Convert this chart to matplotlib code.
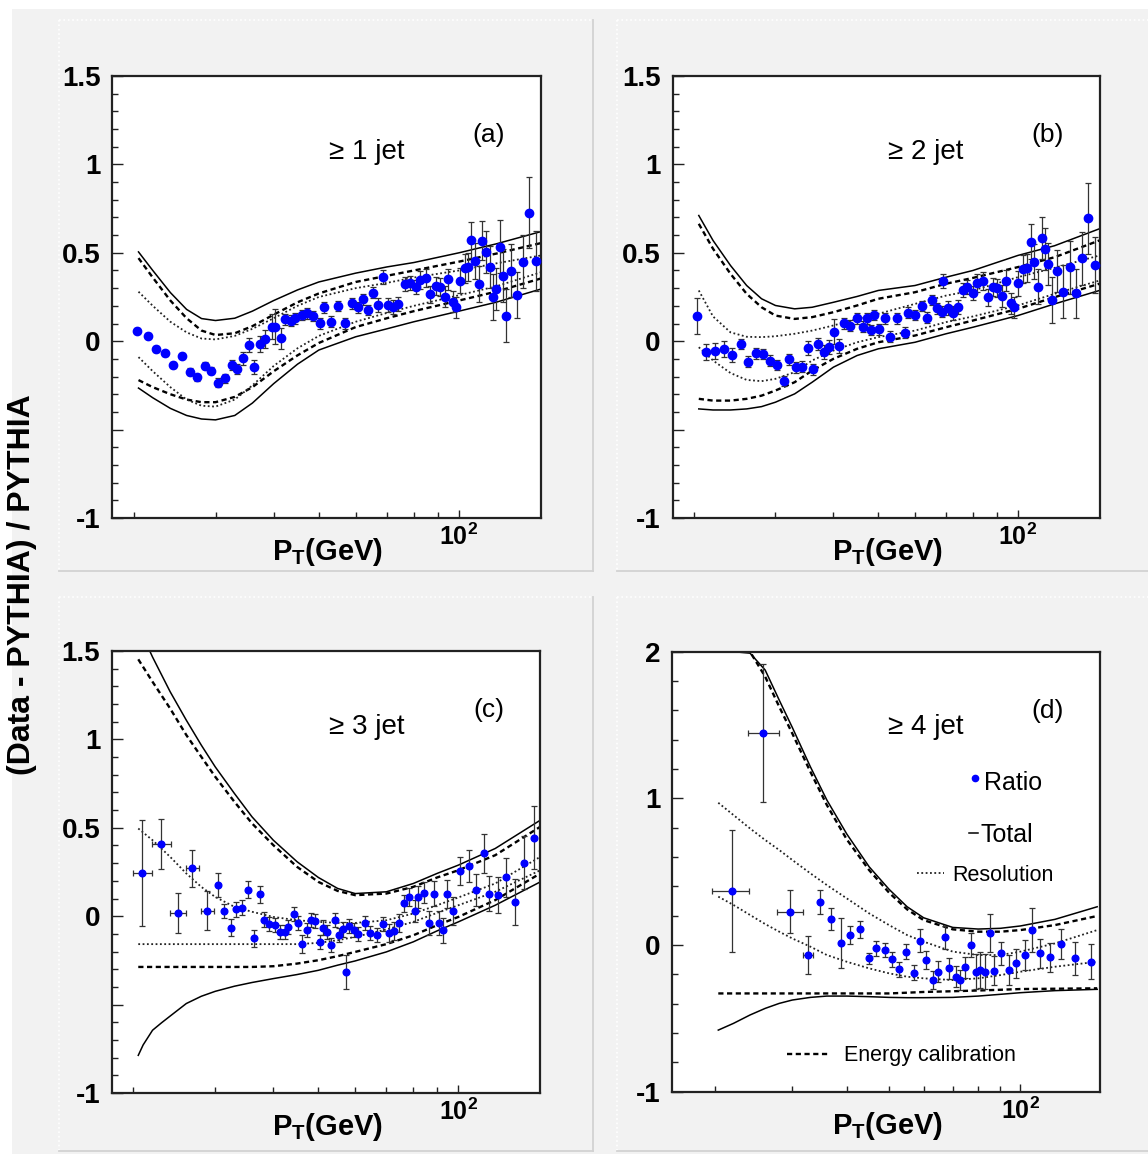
import matplotlib
matplotlib.use('Agg')
import matplotlib.pyplot as plt
from matplotlib.ticker import MultipleLocator, NullFormatter
from matplotlib.lines import Line2D
from matplotlib.patches import Rectangle

plt.rcParams['font.family'] = ['Liberation Sans', 'DejaVu Sans']
plt.rcParams['mathtext.fontset'] = 'custom'
plt.rcParams['mathtext.rm'] = 'Liberation Sans'
plt.rcParams['mathtext.bf'] = 'Liberation Sans:bold'
plt.rcParams['mathtext.it'] = 'Liberation Sans:italic'

BLUE = '#0000ff'

# ---------------- panel (a): >= 1 jet ----------------
cx_a = [20.5, 22, 24, 26, 28, 30, 33, 36, 40, 45, 50, 60, 70, 80, 100, 120, 150]
tot_up_a = [0.505, 0.40, 0.275, 0.18, 0.128, 0.117, 0.13, 0.17, 0.23, 0.29, 0.335, 0.385, 0.42, 0.445, 0.50, 0.55, 0.62]
cal_up_a = [0.47, 0.36, 0.23, 0.13, 0.06, 0.035, 0.045, 0.085, 0.15, 0.22, 0.27, 0.335, 0.37, 0.40, 0.45, 0.495, 0.555]
res_up_a = [0.28, 0.20, 0.11, 0.05, 0.015, 0.01, 0.03, 0.07, 0.13, 0.20, 0.25, 0.30, 0.33, 0.36, 0.40, 0.44, 0.485]
res_lo_a = [-0.09, -0.17, -0.26, -0.33, -0.365, -0.37, -0.33, -0.25, -0.14, -0.04, 0.03, 0.11, 0.16, 0.20, 0.26, 0.31, 0.39]
cal_lo_a = [-0.22, -0.26, -0.30, -0.33, -0.345, -0.345, -0.315, -0.26, -0.17, -0.08, -0.01, 0.08, 0.13, 0.17, 0.23, 0.28, 0.355]
tot_lo_a = [-0.265, -0.32, -0.38, -0.42, -0.44, -0.445, -0.42, -0.35, -0.24, -0.13, -0.05, 0.025, 0.07, 0.11, 0.17, 0.22, 0.295]

pt_a = [20.3, 21.5, 22.4, 23.4, 24.3, 25.4, 26.4, 27.4, 28.5, 29.4, 30.4, 31.4, 32.5, 33.4,
        34.4, 35.4, 36.3, 37.3, 38.4, 39.6, 40.2, 41.4, 42.3, 43.5, 44.5, 45.9, 47.1, 48.5,
        50.2, 51.3, 53.2, 55.0, 56.9, 58.8, 60.7, 62.2, 63.8, 65.4, 67.0, 68.7, 70.4, 72.2,
        74.0, 76.5, 78.4, 80.8, 82.6, 84.8, 86.5, 89.1, 90.9, 93.2, 94.7, 97.1, 98.4, 100.3,
        102.9, 104.5, 106.3, 108.4, 110.2, 112.2, 114.1, 116.4, 118.3, 120.3, 122.3, 124.3,
        126.4, 129.1, 133.5, 137.3, 141.2, 146.1]
val_a = [0.059, 0.031, -0.044, -0.068, -0.135, -0.082, -0.172, -0.204, -0.139, -0.167, -0.235,
         -0.21, -0.135, -0.157, -0.097, -0.021, -0.144, -0.016, 0.012, 0.082, 0.082, 0.016, 0.124,
         0.116, 0.13, 0.148, 0.158, 0.143, 0.101, 0.192, 0.11, 0.199, 0.101, 0.214, 0.192, 0.237,
         0.176, 0.274, 0.205, 0.365, 0.205, 0.195, 0.21, 0.322, 0.327, 0.305, 0.346, 0.356, 0.265,
         0.312, 0.308, 0.252, 0.35, 0.223, 0.192, 0.342, 0.412, 0.418, 0.572, 0.454, 0.324, 0.568,
         0.506, 0.421, 0.252, 0.294, 0.535, 0.369, 0.143, 0.399, 0.261, 0.45, 0.727, 0.455]
err_a = [0.015, 0.015, 0.015, 0.015, 0.015, 0.015, 0.02, 0.02, 0.02, 0.02, 0.025, 0.025, 0.03,
         0.03, 0.035, 0.04, 0.04, 0.045, 0.05, 0.07, 0.1, 0.06, 0.03, 0.03, 0.03, 0.03, 0.03, 0.03,
         0.03, 0.03, 0.03, 0.03, 0.03, 0.03, 0.03, 0.03, 0.03, 0.03, 0.04, 0.04, 0.04, 0.04, 0.04,
         0.04, 0.04, 0.04, 0.05, 0.05, 0.05, 0.05, 0.05, 0.06, 0.06, 0.06, 0.06, 0.07, 0.08, 0.08,
         0.1, 0.1, 0.1, 0.11, 0.12, 0.12, 0.13, 0.12, 0.15, 0.15, 0.15, 0.15, 0.13, 0.15, 0.2, 0.17]

# ---------------- panel (b): >= 2 jet ----------------
cx_b = [20.5, 22, 24, 26, 28, 30, 33, 36, 40, 45, 50, 60, 70, 80, 100, 120, 150]
tot_up_b = [0.711, 0.57, 0.428, 0.315, 0.24, 0.202, 0.183, 0.192, 0.22, 0.253, 0.287, 0.315, 0.362, 0.40, 0.485, 0.54, 0.636]
cal_up_b = [0.664, 0.523, 0.381, 0.268, 0.192, 0.145, 0.126, 0.136, 0.164, 0.202, 0.24, 0.277, 0.325, 0.358, 0.419, 0.475, 0.57]
res_up_b = [0.287, 0.14, 0.05, 0.025, 0.023, 0.028, 0.042, 0.06, 0.089, 0.126, 0.155, 0.211, 0.258, 0.287, 0.362, 0.415, 0.485]
res_lo_b = [-0.034, -0.109, -0.18, -0.219, -0.226, -0.213, -0.175, -0.109, -0.053, -0.006, 0.023, 0.06, 0.108, 0.14, 0.202, 0.268, 0.343]
cal_lo_b = [-0.326, -0.336, -0.336, -0.326, -0.308, -0.279, -0.232, -0.166, -0.1, -0.043, -0.006, 0.032, 0.079, 0.117, 0.183, 0.249, 0.325]
tot_lo_b = [-0.383, -0.389, -0.389, -0.383, -0.37, -0.345, -0.298, -0.232, -0.147, -0.081, -0.043, -0.006, 0.042, 0.079, 0.145, 0.211, 0.287]

pt_b = [20.3, 21.3, 22.2, 23.2, 24.2, 25.3, 26.2, 27.2, 28.2, 29.2, 30.3, 31.3, 32.1, 33.2,
        34.2, 35.2, 36.2, 37.1, 38.1, 39.1, 40.1, 41.2, 42.2, 43.5, 44.9, 46.3, 47.2, 48.2,
        49.0, 50.2, 51.7, 53.0, 54.8, 57.1, 58.0, 60.0, 62.0, 63.6, 65.2, 66.9, 68.5, 69.1,
        70.8, 72.4, 74.4, 76.0, 77.8, 80.2, 81.8, 84.0, 86.4, 88.6, 90.1, 92.3, 94.3, 96.5,
        98.1, 100.3, 102.5, 104.8, 106.6, 108.4, 110.4, 112.6, 114.5, 116.4, 118.3, 121.3,
        125.0, 129.6, 133.5, 137.4, 141.5, 146.7]
val_b = [0.143, -0.063, -0.055, -0.044, -0.078, -0.016, -0.116, -0.068, -0.072, -0.11, -0.135,
         -0.225, -0.102, -0.148, -0.144, -0.04, -0.159, -0.016, -0.06, -0.035, 0.054, -0.027, 0.101,
         0.088, 0.13, 0.082, 0.13, 0.063, 0.148, 0.067, 0.13, 0.026, 0.13, 0.048, 0.161, 0.148,
         0.199, 0.133, 0.233, 0.186, 0.167, 0.342, 0.186, 0.161, 0.192, 0.29, 0.305, 0.271, 0.331,
         0.342, 0.248, 0.308, 0.299, 0.256, 0.342, 0.214, 0.192, 0.327, 0.407, 0.416, 0.563, 0.45,
         0.308, 0.585, 0.52, 0.437, 0.233, 0.397, 0.28, 0.418, 0.271, 0.469, 0.695, 0.431]
err_b = [0.1, 0.045, 0.045, 0.045, 0.04, 0.03, 0.03, 0.03, 0.03, 0.03, 0.03, 0.03, 0.03, 0.03,
         0.03, 0.04, 0.03, 0.035, 0.04, 0.04, 0.07, 0.04, 0.03, 0.03, 0.03, 0.03, 0.03, 0.03, 0.03,
         0.03, 0.03, 0.03, 0.03, 0.03, 0.03, 0.03, 0.03, 0.03, 0.03, 0.03, 0.03, 0.04, 0.04, 0.04,
         0.04, 0.04, 0.04, 0.04, 0.05, 0.05, 0.05, 0.05, 0.05, 0.06, 0.06, 0.06, 0.06, 0.07, 0.08,
         0.08, 0.1, 0.1, 0.1, 0.12, 0.12, 0.12, 0.13, 0.12, 0.15, 0.15, 0.14, 0.15, 0.2, 0.16]

# ---------------- panel (c): >= 3 jet ----------------
cx_c = [20.5, 22, 24, 26, 28, 30, 33, 36, 40, 45, 50, 55, 60, 70, 80, 90, 100, 120, 150]
cx_c_top = [21.7, 22, 24, 26, 28, 30, 33, 36, 40, 45, 50, 55, 60, 70, 80, 90, 100, 120, 150]
cx_c_low = [20.5, 21, 22, 23, 24, 26, 28, 30, 33, 36, 40, 45, 50, 55, 60, 70, 80, 90, 100, 120, 150]
tot_up_c = [1.5, 1.466, 1.27, 1.109, 0.968, 0.845, 0.694, 0.562, 0.43, 0.308, 0.219, 0.157, 0.128, 0.138, 0.185, 0.242, 0.289, 0.383, 0.543]
cal_up_c = [1.453, 1.326, 1.175, 1.025, 0.902, 0.789, 0.647, 0.525, 0.402, 0.279, 0.194, 0.143, 0.119, 0.128, 0.166, 0.219, 0.26, 0.345, 0.506]
res_up_c = [0.496, 0.43, 0.336, 0.242, 0.166, 0.109, 0.053, 0.025, -0.004, -0.023, -0.032, -0.038, -0.038, -0.023, 0.015, 0.062, 0.106, 0.185, 0.336]
res_lo_c = [-0.158, -0.158, -0.158, -0.158, -0.158, -0.158, -0.158, -0.158, -0.158, -0.158, -0.151, -0.136, -0.117, -0.075, -0.032, 0.019, 0.062, 0.138, 0.26]
cal_lo_c = [-0.287, -0.287, -0.287, -0.287, -0.287, -0.287, -0.287, -0.287, -0.283, -0.268, -0.249, -0.226, -0.202, -0.158, -0.108, -0.051, -0.004, 0.091, 0.242]
tot_lo_c = [-0.787, -0.728, -0.645, -0.603, -0.565, -0.494, -0.453, -0.425, -0.396, -0.375, -0.353, -0.33, -0.306, -0.277, -0.253, -0.202, -0.145, -0.083, -0.032, 0.062, 0.194]

pt_c = [20.9, 22.9, 25.0, 26.8, 28.8, 30.4, 31.4, 32.4, 33.3, 34.3, 35.3, 36.3, 37.4, 38.2,
        39.1, 40.3, 41.3, 42.3, 43.1, 44.4, 45.2, 46.2, 47.3, 48.3, 49.2, 50.3, 51.1, 52.3,
        53.1, 54.4, 55.5, 56.6, 57.4, 58.3, 59.6, 60.8, 62.9, 64.7, 66.8, 68.8, 70.8, 72.7,
        74.5, 76.3, 78.3, 80.5, 82.0, 84.5, 86.4, 88.6, 91.0, 92.6, 94.6, 97.3, 101.0, 105.6,
        109.1, 113.4, 116.6, 121.5, 126.6, 132.3, 138.6, 145.2]
val_c = [0.242, 0.408, 0.019, 0.27, 0.03, 0.175, 0.03, -0.064, 0.038, 0.049, 0.151, -0.126,
         0.123, -0.019, -0.045, -0.051, -0.089, -0.089, -0.06, 0.011, -0.038, -0.158, -0.079,
         -0.023, -0.028, -0.145, -0.064, -0.089, -0.164, -0.023, -0.108, -0.075, -0.315, -0.057,
         -0.079, -0.102, -0.038, -0.094, -0.108, -0.045, -0.094, -0.083, -0.038, 0.072, 0.109,
         0.03, 0.109, 0.132, -0.038, 0.128, -0.038, -0.079, 0.125, 0.03, 0.257, 0.283, 0.147,
         0.355, 0.128, 0.119, 0.219, 0.081, 0.302, 0.445]
err_c = [0.3, 0.14, 0.114, 0.104, 0.11, 0.068, 0.04, 0.05, 0.04, 0.04, 0.05, 0.05, 0.05, 0.04,
         0.04, 0.04, 0.04, 0.04, 0.04, 0.04, 0.04, 0.05, 0.04, 0.04, 0.04, 0.04, 0.04, 0.04,
         0.04, 0.04, 0.04, 0.04, 0.094, 0.04, 0.04, 0.04, 0.04, 0.04, 0.04, 0.04, 0.05, 0.05,
         0.05, 0.05, 0.05, 0.06, 0.06, 0.06, 0.07, 0.07, 0.07, 0.07, 0.08, 0.08, 0.08, 0.09,
         0.09, 0.11, 0.1, 0.1, 0.11, 0.13, 0.15, 0.18]
xlo_c = [0.9, 1.0, 1.0, 0.9, 0.9] + [0.0] * 59
xhi_c = [1.0, 1.2, 1.0, 0.9, 1.0] + [0.0] * 59

# ---------------- panel (d): >= 4 jet ----------------
cx_d = [20.3, 22, 24, 26, 28, 30, 33, 36, 40, 45, 50, 55, 60, 70, 80, 90, 100, 120, 150]
tot_up_d = [2.0, 2.0, 1.99, 1.875, 1.67, 1.484, 1.216, 0.989, 0.757, 0.534, 0.38, 0.261, 0.186, 0.12, 0.109, 0.114, 0.13, 0.175, 0.261]
cal_up_d = [2.0, 2.0, 2.0, 1.83, 1.625, 1.443, 1.182, 0.955, 0.72, 0.511, 0.357, 0.243, 0.17, 0.107, 0.091, 0.091, 0.102, 0.136, 0.198]
res_up_d = [0.97, 0.886, 0.795, 0.716, 0.648, 0.58, 0.489, 0.409, 0.318, 0.216, 0.136, 0.068, 0.023, -0.045, -0.068, -0.068, -0.045, 0.011, 0.102]
res_lo_d = [0.33, 0.273, 0.205, 0.143, 0.091, 0.045, -0.011, -0.068, -0.114, -0.159, -0.193, -0.216, -0.227, -0.239, -0.227, -0.205, -0.182, -0.148, -0.114]
cal_lo_d = [-0.33, -0.33, -0.33, -0.33, -0.33, -0.33, -0.33, -0.33, -0.33, -0.33, -0.33, -0.325, -0.32, -0.315, -0.31, -0.305, -0.30, -0.298, -0.295]
tot_lo_d = [-0.58, -0.534, -0.477, -0.432, -0.398, -0.375, -0.357, -0.348, -0.348, -0.352, -0.357, -0.359, -0.359, -0.357, -0.348, -0.336, -0.325, -0.311, -0.302]

pt_d = [21.8, 25.7, 29.7, 32.6, 34.8, 36.9, 38.9, 40.7, 43.0, 44.9, 46.7, 48.9, 50.8, 52.8,
        54.8, 57.0, 58.8, 60.8, 63.1, 64.7, 67.1, 68.7, 71.2, 72.8, 74.8, 77.2, 79.1, 80.9,
        83.1, 85.3, 87.1, 90.4, 94.3, 97.7, 102.3, 106.3, 111.1, 117.1, 124.1, 133.6, 145.4]
val_d = [0.37, 1.448, 0.227, -0.068, 0.295, 0.175, 0.011, 0.068, 0.107, -0.091, -0.023, -0.034,
         -0.098, -0.166, -0.045, -0.189, 0.03, -0.102, -0.239, -0.182, 0.052, -0.159, -0.216,
         -0.239, -0.152, 0.0, -0.182, -0.17, -0.182, 0.08, -0.175, -0.057, -0.17, -0.125, -0.068,
         0.102, -0.057, -0.084, 0.007, -0.091, -0.114]
err_d = [0.415, 0.47, 0.148, 0.13, 0.08, 0.075, 0.17, 0.06, 0.06, 0.04, 0.05, 0.05, 0.05, 0.05,
         0.05, 0.05, 0.08, 0.06, 0.06, 0.07, 0.08, 0.07, 0.07, 0.07, 0.07, 0.08, 0.12, 0.12, 0.12,
         0.13, 0.1, 0.08, 0.1, 0.1, 0.1, 0.15, 0.1, 0.1, 0.1, 0.11, 0.12]
xlo_d = [2.2, 1.9, 2.0, 0.8] + [0.0] * 37
xhi_d = [2.1, 2.3, 2.1, 0.8] + [0.0] * 37

jet_labels = ['\u2265 1 jet', '\u2265 2 jet', '\u2265 3 jet', '\u2265 4 jet']
panel_tags = ['(a)', '(b)', '(c)', '(d)']


def draw_band(ax, cx, up_tot, lo_tot, up_res, lo_res, up_cal, lo_cal, cx_top=None, cx_low=None):
    ax.plot(cx_top if cx_top else cx, up_tot, color='k', lw=1.1, ls='-')
    ax.plot(cx_low if cx_low else cx, lo_tot, color='k', lw=1.1, ls='-')
    for ys in (up_cal, lo_cal):
        ax.plot(cx, ys, color='k', lw=1.7, ls=(0, (2.2, 1.5)))
    for ys in (up_res, lo_res):
        ax.plot(cx, ys, color='#222222', lw=1.3, ls=(0, (1, 1.4)))


def style_axes(ax, xlim, ylim, yticks, ylabels, ymin_step):
    ax.set_xscale('log')
    ax.set_xlim(*xlim)
    ax.set_ylim(*ylim)
    ax.set_facecolor('white')
    ax.set_xticks([100], labels=[r'$\mathbf{10^{2}}$'], fontsize=18)
    ax.set_xticks([20, 30, 40, 50, 60, 70, 80, 90], minor=True)
    ax.xaxis.set_minor_formatter(NullFormatter())
    ax.set_yticks(yticks, labels=ylabels, fontsize=20, fontweight='bold')
    ax.yaxis.set_minor_locator(MultipleLocator(ymin_step))
    ax.tick_params(which='both', direction='in', top=False, right=False, color='#222222')
    ax.tick_params(axis='y', which='major', length=8, width=1.0, pad=8.5)
    ax.tick_params(axis='y', which='minor', length=4, width=1.0)
    ax.tick_params(axis='x', which='major', length=5.5, width=1.0, pad=4)
    ax.tick_params(axis='x', which='minor', length=4, width=1.0)
    for sp in ax.spines.values():
        sp.set_linewidth(1.6)
        sp.set_color('#222222')
    ax.set_xlabel(r'$\mathbf{P_{T}(GeV)}$', fontsize=21)
    ax.xaxis.set_label_coords(0.503, -0.077)
    ax.xaxis.label.set_va('center')


fig = plt.figure(figsize=(11.48, 11.54), dpi=100)
fig.patch.set_facecolor('white')

W, H = 1148.0, 1154.0
# ROOT canvas background and pad bevels
fig.patches.append(Rectangle((12 / W, 0), 1, 1 - 9 / H, transform=fig.transFigure,
                             facecolor='#f2f2f2', edgecolor='none', zorder=-10))
pads = [(59, 20, 593, 571), (617, 20, 1160, 571), (59, 597, 593, 1151), (617, 597, 1160, 1151)]
for x0, y0, x1, y1 in pads:
    fig.lines.append(Line2D([x0 / W, x1 / W], [1 - y0 / H, 1 - y0 / H], transform=fig.transFigure,
                            color='white', lw=1.2, ls=':'))
    fig.lines.append(Line2D([x0 / W, x0 / W], [1 - y0 / H, 1 - y1 / H], transform=fig.transFigure,
                            color='white', lw=1.2, ls=':'))
    fig.lines.append(Line2D([x0 / W, x1 / W], [1 - y1 / H, 1 - y1 / H], transform=fig.transFigure,
                            color='#d2d2d2', lw=1.3))
    fig.lines.append(Line2D([x1 / W, x1 / W], [1 - y0 / H, 1 - y1 / H], transform=fig.transFigure,
                            color='#d2d2d2', lw=1.3))

ax_a = fig.add_axes([112.2 / W, 1 - 518 / H, 428.8 / W, 442 / H])
ax_b = fig.add_axes([672.6 / W, 1 - 518 / H, 426.9 / W, 442 / H])
ax_c = fig.add_axes([112.0 / W, 1 - 1093 / H, 428.3 / W, 442 / H])
ax_d = fig.add_axes([672.0 / W, 1 - 1091.7 / H, 427.7 / W, 440 / H])

lab15 = ['-1', '', '0', '0.5', '1', '1.5']
tick15 = [-1, -0.5, 0, 0.5, 1, 1.5]

panels = [
    (ax_a, cx_a, None, None, tot_up_a, tot_lo_a, res_up_a, res_lo_a, cal_up_a, cal_lo_a, pt_a, val_a, err_a, None),
    (ax_b, cx_b, None, None, tot_up_b, tot_lo_b, res_up_b, res_lo_b, cal_up_b, cal_lo_b, pt_b, val_b, err_b, None),
    (ax_c, cx_c, cx_c_top, cx_c_low, tot_up_c, tot_lo_c, res_up_c, res_lo_c, cal_up_c, cal_lo_c, pt_c, val_c, err_c, (xlo_c, xhi_c)),
    (ax_d, cx_d, None, None, tot_up_d, tot_lo_d, res_up_d, res_lo_d, cal_up_d, cal_lo_d, pt_d, val_d, err_d, (xlo_d, xhi_d)),
]

for i, (ax, cx, cxt, cxl, tu, tl, ru, rl, cu, cl, px, py, pe, xe) in enumerate(panels):
    draw_band(ax, cx, tu, tl, ru, rl, cu, cl, cx_top=cxt, cx_low=cxl)
    ms = 6.0 if i < 2 else 4.8
    ax.errorbar(px, py, yerr=pe, xerr=[xe[0], xe[1]] if xe else None, fmt='o', color=BLUE,
                ms=ms, mec=BLUE, ecolor='#333333', elinewidth=0.9, capsize=2.2, capthick=0.9,
                zorder=5)
    if i < 3:
        style_axes(ax, (18, 150), (-1, 1.5), tick15, lab15, 0.1)
    else:
        style_axes(ax, (15.9, 152), (-1, 2), [-1, 0, 1, 2], ['-1', '0', '1', '2'], 0.2)
    ax.text(0.594, 0.813, jet_labels[i], transform=ax.transAxes, ha='center', va='baseline',
            fontsize=20)
    ax.text(0.879, 0.85, panel_tags[i], transform=ax.transAxes, ha='center', va='baseline',
            fontsize=19)

# legend of panel (d), drawn the ROOT way
ax_d.plot([0.7077], [0.7123], 'o', color=BLUE, ms=4.5, transform=ax_d.transAxes, clip_on=False)
ax_d.text(0.7288, 0.6857, 'Ratio', transform=ax_d.transAxes, fontsize=18, va='baseline')
ax_d.plot([0.694, 0.716], [0.5873, 0.5873], color='k', lw=1.1, transform=ax_d.transAxes)
ax_d.text(0.7209, 0.5682, 'Total', transform=ax_d.transAxes, fontsize=18, va='baseline')
ax_d.plot([0.5728, 0.6352], [0.4964, 0.4964], color='#222222', lw=1.3, ls=(0, (1, 1.4)),
          transform=ax_d.transAxes)
ax_d.text(0.6547, 0.4796, 'Resolution', transform=ax_d.transAxes, fontsize=15.5, va='baseline')
ax_d.plot([0.2689, 0.3664], [0.0857, 0.0857], color='k', lw=1.7, ls=(0, (2.2, 1.5)),
          transform=ax_d.transAxes)
ax_d.text(0.4014, 0.0705, 'Energy calibration', transform=ax_d.transAxes, fontsize=15.5,
          va='baseline')

fig.text(22 / W, 1 - 585 / H, '(Data - PYTHIA) / PYTHIA', rotation=90, ha='center',
         va='center', fontsize=23, fontweight='bold')

fig.savefig('out.png', dpi=100)
